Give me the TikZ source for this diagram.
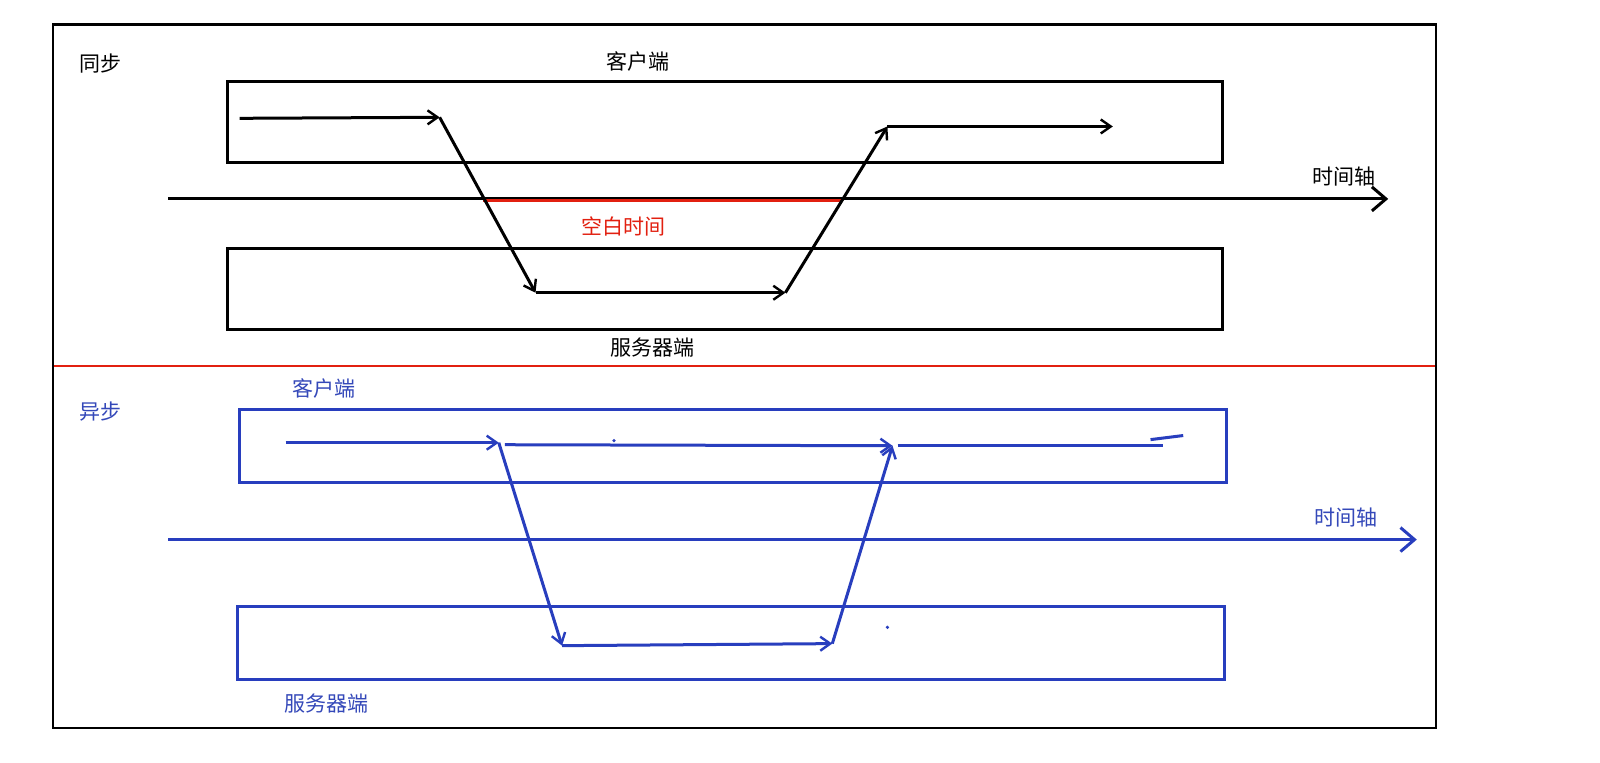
\documentclass[tikz,border=0pt]{standalone}
\usepackage{fontspec}
\newfontfamily\cjk{Noto Sans CJK SC}
\usetikzlibrary{arrows.meta}
\definecolor{myblue}{RGB}{40,62,190}
\definecolor{myblueText}{RGB}{52,72,185}
\definecolor{myred}{RGB}{226,32,16}
\tikzset{
  lbl/.style={font=\cjk\fontsize{21}{24}\selectfont, inner sep=0pt},
  band/.style={draw, line width=3pt, inner sep=0pt, anchor=north west},
  flow/.style={line width=3pt, -{Straight Barb[length=10pt,width=14pt,line width=2.4pt]}},
  axis/.style={line width=3pt, -{Straight Barb[length=14pt,width=24pt,line width=3pt]}},
}
\begin{document}
\begin{tikzpicture}[x=1.02pt,y=-1.02pt]
\useasboundingbox (0,0) rectangle (1568.63,748.04);
\fill[white] (0,0) rectangle (1568.63,748.04);
% frame and divider
\draw[line width=2.4pt] (52,24) rectangle (1408,714);
\coordinate (dl) at (53,359);
\coordinate (dr) at (1407,359);
\draw[myred, line width=2.4pt] (dl) -- (dr);

% ---------- synchronous ----------
\node[lbl] (sync) at (99,62) {同步};
\node[lbl] (cl1) at (625,60) {客户端};
\node[band, minimum width=994.5pt, minimum height=81.6pt] (crect1) at (222,78) {};
\node[band, minimum width=994.5pt, minimum height=81.6pt] (srect1) at (222,242) {};
\node[lbl] (sv1) at (640,341) {服务器端};
\coordinate (t1s) at (165,195);
\coordinate (t1e) at (1361,195);
\draw[axis] (t1s) -- (t1e);
\node[lbl, anchor=south] (ax1) at (1318,183) {时间轴};
\coordinate (r1) at (474,197);
\coordinate (r2) at (825,197);
\draw[myred, line width=3pt] (r1) -- (r2);
\node[lbl, text=myred] (gap) at (611,222) {空白时间};

\coordinate (a1) at (235,116);
\coordinate (a2) at (431,115);
\coordinate (a3) at (525,287);
\coordinate (a4) at (770,287);
\coordinate (a5) at (870,124);
\coordinate (a6) at (1091,124);
\draw[flow] (a1) -- (a2);
\draw[flow] (a2) -- (a3);
\draw[flow] (a3) -- (a4);
\draw[flow] (a4) -- (a5);
\draw[flow] (a5) -- (a6);

% ---------- asynchronous ----------
\node[lbl, text=myblueText] (async) at (99,403) {异步};
\node[lbl, text=myblueText] (cl2) at (318,381) {客户端};
\node[band, draw=myblue, minimum width=987.4pt, minimum height=73.4pt] (crect2) at (233,400) {};
\node[band, draw=myblue, minimum width=987.4pt, minimum height=73.4pt] (srect2) at (231,593) {};
\node[lbl, text=myblueText] (sv2) at (320,690) {服务器端};
\coordinate (t2s) at (165,529);
\coordinate (t2e) at (1389,529);
\draw[axis, myblue] (t2s) -- (t2e);
\node[lbl, text=myblueText, anchor=south] (ax2) at (1320,517) {时间轴};

\coordinate (b1) at (280,434);
\coordinate (b2) at (489,434);
\coordinate (b2b) at (495,436);
\coordinate (b3) at (875,437);
\coordinate (b3b) at (880,437);
\coordinate (b4) at (1140,437);
\coordinate (b5) at (551,633);
\coordinate (b6) at (816,631);
\begin{scope}[myblue]
\draw[flow] (b1) -- (b2);
\draw[flow] (b2b) -- (b3);
\draw[line width=3pt] (b3b) -- (b4);
\draw[flow] (b2) -- (b5);
\draw[flow] (b5) -- (b6);
\draw[flow] (b6) -- (b3);
\coordinate (s1) at (1128,431);
\coordinate (s2) at (1160,427);
\draw[line width=3pt] (s1) -- (s2);
\coordinate (d1) at (602,432);
\coordinate (d2) at (870,615);
\fill (d1) circle (1.8pt);
\fill (d2) circle (1.8pt);
\end{scope}
\end{tikzpicture}
\end{document}
